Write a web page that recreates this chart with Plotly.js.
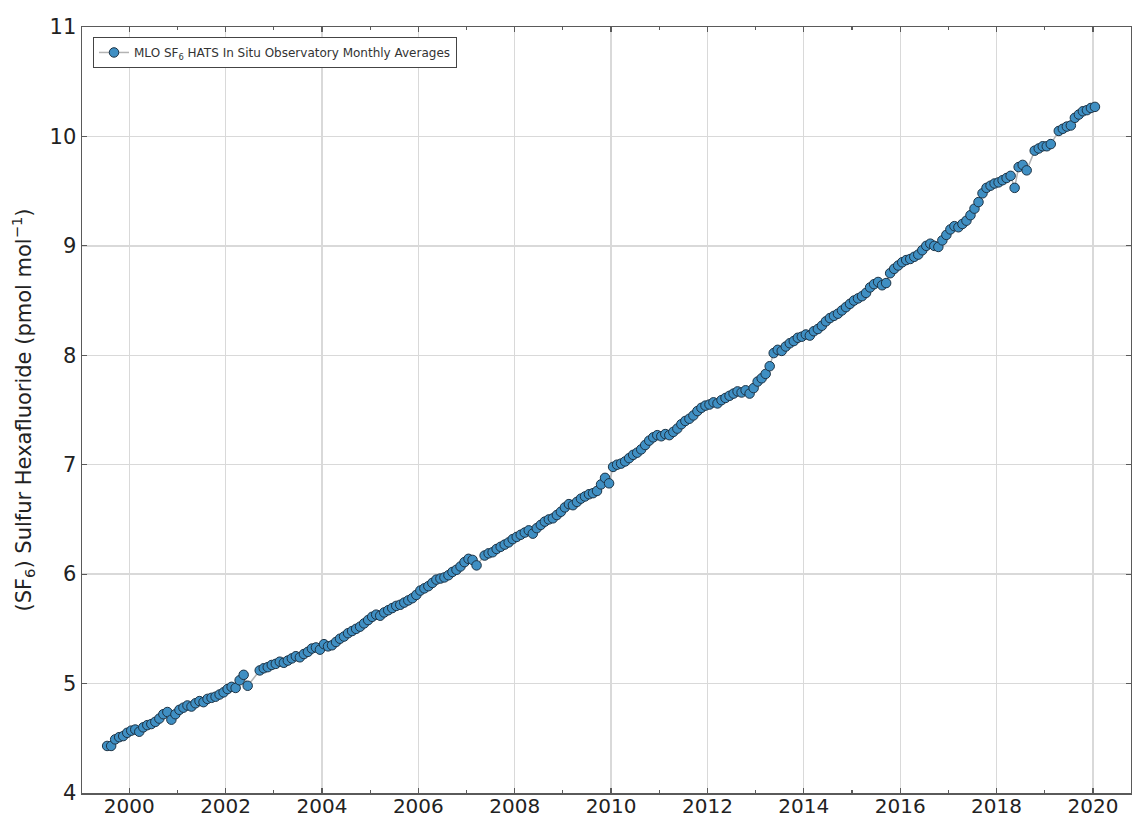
<!DOCTYPE html>
<html>
<head>
<meta charset="utf-8">
<script src="https://cdn.plot.ly/plotly-3.0.1.min.js"></script>
<style>html,body{margin:0;padding:0;background:#fff;}</style>
</head>
<body>
<div id="chart" style="width:1132px;height:817px;"></div>
<script>
// Monthly averages, MLO SF6 HATS in situ (pmol/mol); null = missing month
const startYear = 1999, startMonth = 7;   // first value is July 1999
const v1999 = [4.43, 4.43, 4.49, 4.51, 4.52, 4.55];
const v2000 = [4.57, 4.58, 4.56, 4.60, 4.62, 4.63, 4.65, 4.68, 4.72, 4.74, 4.67, 4.72];
const v2001 = [4.76, 4.78, 4.80, 4.79, 4.82, 4.84, 4.83, 4.86, 4.87, 4.88, 4.90, 4.92];
const v2002 = [4.95, 4.97, 4.96, 5.03, 5.08, 4.98, null, null, 5.12, 5.14, 5.15, 5.17];
const v2003 = [5.18, 5.20, 5.19, 5.21, 5.23, 5.25, 5.24, 5.27, 5.29, 5.32, 5.33, 5.31];
const v2004 = [5.36, 5.34, 5.35, 5.38, 5.41, 5.43, 5.46, 5.48, 5.50, 5.52, 5.55, 5.58];
const v2005 = [5.61, 5.63, 5.62, 5.65, 5.67, 5.69, 5.71, 5.72, 5.74, 5.76, 5.78, 5.81];
const v2006 = [5.85, 5.87, 5.89, 5.92, 5.95, 5.96, 5.97, 5.99, 6.02, 6.04, 6.07, 6.11];
const v2007 = [6.14, 6.13, 6.08, null, 6.17, 6.19, 6.20, 6.23, 6.25, 6.27, 6.29, 6.32];
const v2008 = [6.34, 6.36, 6.38, 6.40, 6.37, 6.42, 6.45, 6.48, 6.50, 6.51, 6.54, 6.57];
const v2009 = [6.61, 6.64, 6.63, 6.66, 6.69, 6.71, 6.73, 6.74, 6.76, 6.82, 6.88, 6.83];
const v2010 = [6.98, 7.00, 7.01, 7.03, 7.06, 7.09, 7.11, 7.14, 7.18, 7.22, 7.25, 7.27];
const v2011 = [7.26, 7.28, 7.27, 7.30, 7.33, 7.37, 7.40, 7.42, 7.45, 7.49, 7.52, 7.54];
const v2012 = [7.55, 7.57, 7.56, 7.59, 7.61, 7.63, 7.65, 7.67, 7.66, 7.68, 7.65, 7.70];
const v2013 = [7.76, 7.79, 7.83, 7.90, 8.02, 8.05, 8.04, 8.08, 8.11, 8.13, 8.16, 8.17];
const v2014 = [8.19, 8.18, 8.22, 8.24, 8.27, 8.31, 8.34, 8.36, 8.38, 8.41, 8.44, 8.47];
const v2015 = [8.50, 8.52, 8.54, 8.57, 8.62, 8.65, 8.67, 8.64, 8.66, 8.75, 8.79, 8.82];
const v2016 = [8.85, 8.87, 8.88, 8.90, 8.92, 8.96, 9.00, 9.02, 9.00, 8.99, 9.05, 9.10];
const v2017 = [9.15, 9.18, 9.17, 9.20, 9.23, 9.28, 9.34, 9.40, 9.48, 9.53, 9.55, 9.57];
const v2018 = [9.58, 9.60, 9.62, 9.64, 9.53, 9.72, 9.74, 9.69, null, 9.87, 9.89, 9.91];
const v2019 = [9.91, 9.93, null, 10.05, 10.07, 10.09, 10.10, 10.17, 10.20, 10.23, 10.24, 10.26];
const v2020 = [10.27];

const xTickVals = [2000, 2002, 2004, 2006, 2008, 2010, 2012, 2014, 2016, 2018, 2020];
const yTickVals = [4, 5, 6, 7, 8, 9, 10, 11];

const values = [].concat(v1999, v2000, v2001, v2002, v2003, v2004, v2005, v2006,
  v2007, v2008, v2009, v2010, v2011, v2012, v2013, v2014, v2015, v2016, v2017,
  v2018, v2019, v2020);
const xs = values.map((_, i) => startYear + (startMonth - 1 + i + 0.5) / 12);

const trace = {
  x: xs, y: values,
  type: 'scatter', mode: 'lines+markers',
  connectgaps: true,
  name: 'MLO SF<sub>6</sub> HATS In Situ Observatory Monthly Averages',
  line: {color: '#b3b3b3', width: 1.5},
  marker: {size: 9.5, color: '#3f8fc3', line: {color: '#1d3345', width: 1}}
};

const axisCommon = {
  showline: true, linecolor: '#5a5a5a', linewidth: 1.5, mirror: 'allticks',
  ticks: 'inside', ticklen: 5, tickwidth: 1.2, tickcolor: '#5a5a5a',
  showgrid: true, gridcolor: '#d9d9d9', gridwidth: 1.3, zeroline: false,
  tickfont: {size: 21, color: '#222'}
};

const layout = {
  width: 1132, height: 817,
  margin: {l: 82, r: 1, t: 27, b: 24},
  paper_bgcolor: '#ffffff', plot_bgcolor: '#ffffff',
  font: {family: 'DejaVu Sans', color: '#222'},
  showlegend: true,
  legend: {
    x: 0.0105, y: 0.987, xanchor: 'left', yanchor: 'top',
    bgcolor: '#ffffff', bordercolor: '#444', borderwidth: 1,
    font: {size: 12, color: '#333'}, itemwidth: 30
  },
  xaxis: Object.assign({}, axisCommon, {
    range: [1999.02, 2020.79], tickmode: 'array', tickvals: xTickVals,
    ticktext: xTickVals.map(String),
    tickfont: {size: 20, color: '#222'},
    ticklabelstandoff: -6,
    minor: {dtick: 1, tick0: 1999, ticks: 'inside', ticklen: 3, tickcolor: '#5a5a5a', showgrid: false}
  }),
  yaxis: Object.assign({}, axisCommon, {
    range: [4, 11], tickmode: 'array', tickvals: yTickVals,
    ticktext: yTickVals.map(String),
    title: {text: '(SF<sub>6</sub>) Sulfur Hexafluoride (pmol mol<sup>−1</sup>)',
            font: {size: 21, color: '#222'}, standoff: 12}
  })
};

Plotly.newPlot('chart', [trace], layout, {displayModeBar: false, staticPlot: true});
</script>
</body>
</html>
